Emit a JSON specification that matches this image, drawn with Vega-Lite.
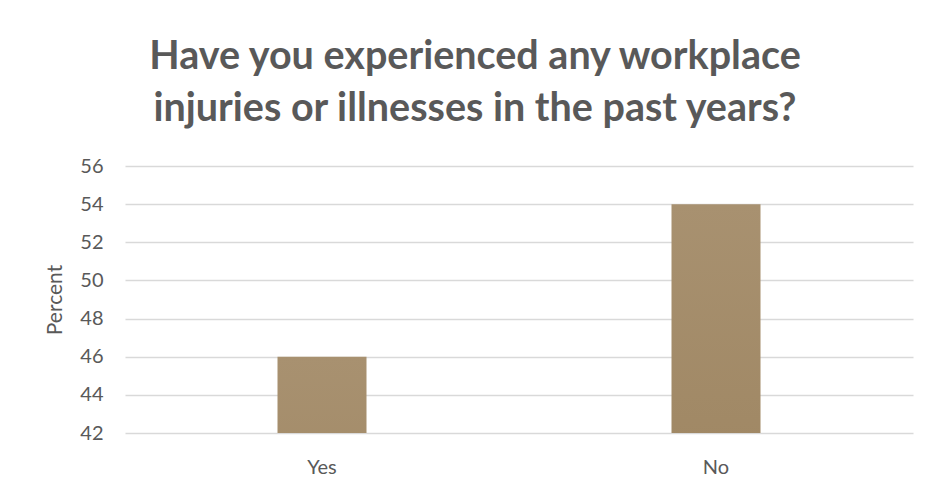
{
  "$schema": "https://vega.github.io/schema/vega-lite/v6.json",
  "autosize": "none",
  "width": 788,
  "height": 267,
  "padding": {"left": 125, "top": 166, "right": 18, "bottom": 58},
  "background": "white",
  "data": {"values": [
    {"answer": "Yes", "percent": 46},
    {"answer": "No", "percent": 54}
  ]},
  "title": {
    "text": ["Have you experienced any workplace", "injuries or illnesses in the past years?"],
    "font": "Lato",
    "fontSize": 39.5,
    "fontWeight": "bold",
    "color": "#595959",
    "anchor": "middle",
    "frame": "group",
    "dx": -44,
    "lineHeight": 52,
    "baseline": "alphabetic",
    "offset": -4
  },
  "mark": {
    "type": "bar",
    "size": 89,
    "clip": true,
    "fill": {
      "gradient": "linear",
      "x1": 0, "y1": 0, "x2": 0, "y2": 1,
      "stops": [
        {"offset": 0, "color": "#a89170"},
        {"offset": 1, "color": "#876b40"}
      ]
    }
  },
  "encoding": {
    "x": {
      "field": "answer",
      "type": "nominal",
      "sort": ["Yes", "No"],
      "scale": {"paddingInner": 0, "paddingOuter": 0},
      "axis": {
        "title": null,
        "labelAngle": 0,
        "ticks": false,
        "domain": false,
        "labelPadding": 24,
        "labelFont": "Lato",
        "labelFontSize": 20,
        "labelColor": "#595959"
      }
    },
    "y": {
      "field": "percent",
      "type": "quantitative",
      "scale": {"domain": [42, 56], "zero": false, "nice": false},
      "axis": {
        "title": "Percent",
        "values": [42, 44, 46, 48, 50, 52, 54, 56],
        "ticks": false,
        "domain": false,
        "grid": true,
        "gridColor": "#d9d9d9",
        "gridWidth": 1.3,
        "labelPadding": 22,
        "labelFont": "Lato",
        "labelFontSize": 20,
        "labelColor": "#595959",
        "titleFont": "Lato",
        "titleFontSize": 21,
        "titleFontWeight": "normal",
        "titleColor": "#595959",
        "titlePadding": 14
      }
    }
  },
  "config": {"view": {"stroke": null}}
}
